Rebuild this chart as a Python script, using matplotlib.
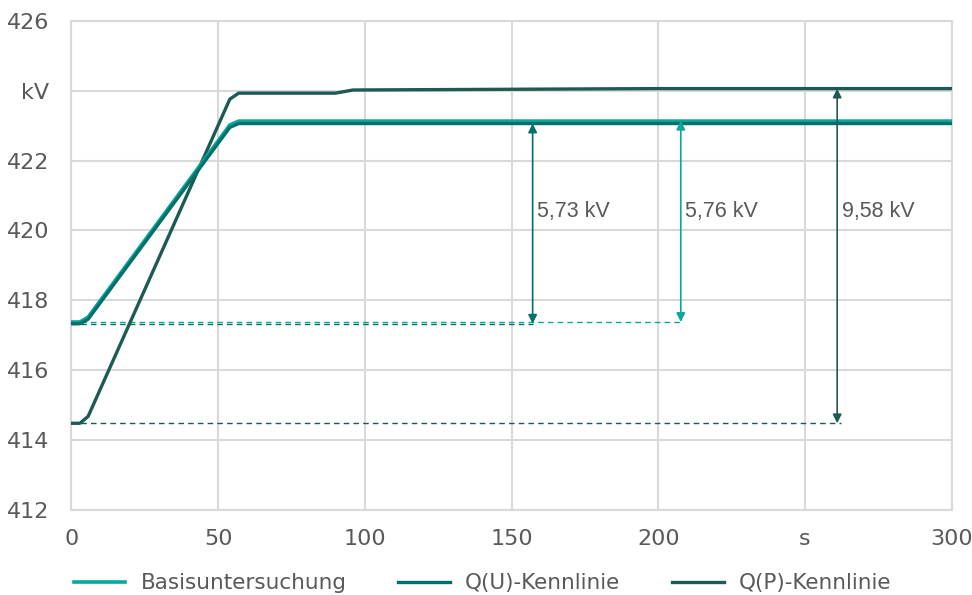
import matplotlib.pyplot as plt

# --- DATA ---

t_basis = [0, 2.9, 5.7, 54, 57, 300]
basis = [417.38, 417.38, 417.52, 423.02, 423.13, 423.13]

t_qu = [0, 2.9, 5.7, 54, 57, 300]
q_u = [417.33, 417.33, 417.46, 422.95, 423.06, 423.06]

t_qp = [0, 2.9, 5.7, 54, 57, 90, 96, 200, 300]
q_p = [414.48, 414.48, 414.68, 423.76, 423.93, 423.93, 424.02, 424.06, 424.06]

x_ticks = [0, 50, 100, 150, 200, 250, 300]
x_labels = ['0', '50', '100', '150', '200', 's', '300']
y_ticks = [412, 414, 416, 418, 420, 422, 424, 426]
y_labels = ['412', '414', '416', '418', '420', '422', 'kV', '426']

# arrows: (x, bottom, top, label)
deltas = [(157.2, 417.33, 423.06, '5,73 kV'),
          (207.7, 417.38, 423.14, '5,76 kV'),
          (261.0, 414.48, 424.06, '9,58 kV')]

# --- STYLE ---

plt.rcParams['font.family'] = ['DejaVu Sans']

C_BASIS = '#0aa79c'
C_QU = '#00716a'
C_QP = '#1e5a55'
C_TEXT = '#595959'
C_GRID = '#d9d9d9'

fig = plt.figure(figsize=(9.72, 5.95), dpi=100)
ax = fig.add_axes([0.0735, 0.143, 0.9055, 0.822])

# dashed reference lines
ax.hlines(q_u[0], 0, deltas[0][0], colors=C_QU, linestyles=(0, (4, 3)), lw=1, zorder=2)
ax.hlines(basis[0], 0, deltas[1][0] + 0.5, colors=C_BASIS, linestyles=(0, (4, 3)), lw=1, zorder=2)
ax.hlines(q_p[0], 0, deltas[2][0] + 1.3, colors=C_QP, linestyles=(0, (4, 3)), lw=1, zorder=2)

ax.plot(t_qp, q_p, color=C_QP, lw=2.4, label='Q(P)-Kennlinie', zorder=3)
ax.plot(t_basis, basis, color=C_BASIS, lw=2.6, label='Basisuntersuchung', zorder=3)
ax.plot(t_qu, q_u, color=C_QU, lw=2.4, label='Q(U)-Kennlinie', zorder=4)

arrow_colors = [C_QU, C_BASIS, C_QP]
for (x, lo, hi, txt), col in zip(deltas, arrow_colors):
    ax.annotate('', xy=(x, lo), xytext=(x, hi),
                arrowprops=dict(arrowstyle='<|-|>', color=col, lw=1.2,
                                mutation_scale=13, shrinkA=0, shrinkB=0),
                zorder=5)
    ax.text(x + 1.5, 420.55, txt, color=C_TEXT, fontsize=15.5, va='center',
            ha='left', family=['Liberation Sans', 'DejaVu Sans'])

ax.set_xlim(0, 300)
ax.set_ylim(412, 426)
ax.set_xticks(x_ticks)
ax.set_xticklabels(x_labels)
ax.set_yticks(y_ticks)
ax.set_yticklabels(y_labels)
ax.tick_params(length=0, labelsize=16, colors=C_TEXT)
ax.tick_params(axis='x', pad=14)
ax.tick_params(axis='y', pad=16)
ax.grid(True, color=C_GRID, lw=1.5)
for s in ax.spines.values():
    s.set_color(C_GRID)
    s.set_linewidth(1.5)
ax.set_axisbelow(True)

handles, labels = ax.get_legend_handles_labels()
order = [1, 2, 0]
leg = fig.legend([handles[i] for i in order], [labels[i] for i in order],
                 loc='lower left', bbox_to_anchor=(0.056, -0.03), ncol=3,
                 frameon=False, fontsize=15.5, handlelength=2.4,
                 columnspacing=2.4, handletextpad=0.7)
for t in leg.get_texts():
    t.set_color(C_TEXT)

plt.savefig('out.png', dpi=100)
plt.close()
